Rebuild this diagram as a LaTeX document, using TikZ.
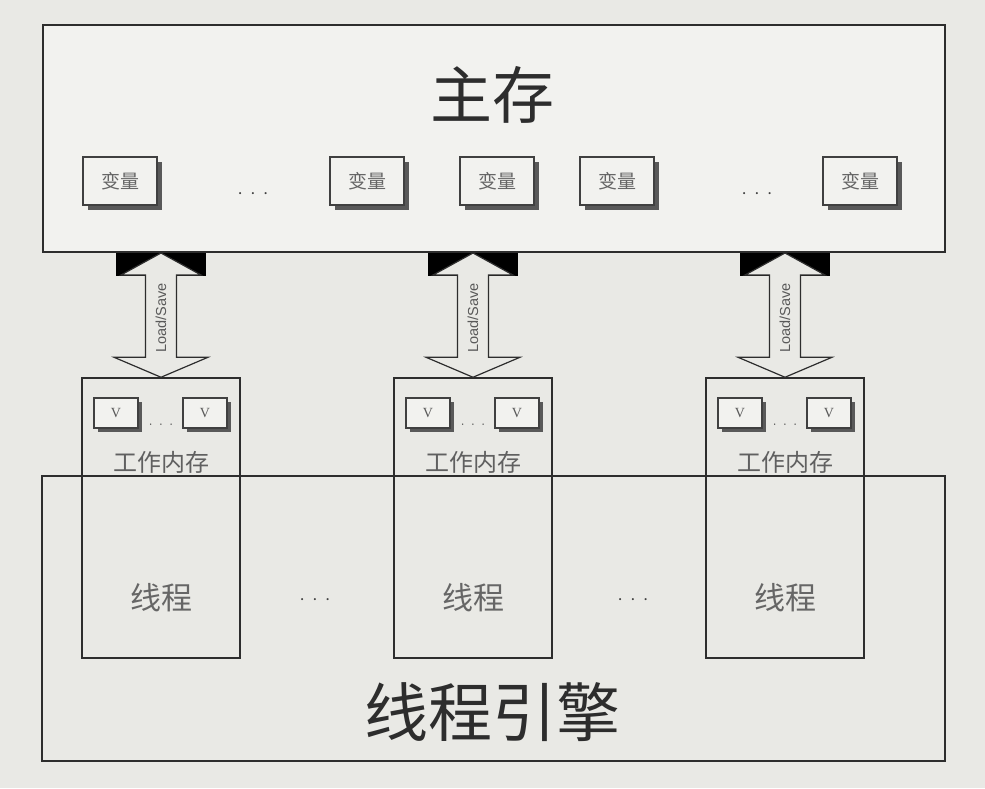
\documentclass[tikz,border=0pt]{standalone}
\usepackage{fontspec}
\newfontfamily\cjk{Noto Sans CJK SC}
\newfontfamily\serif{Liberation Serif}
\newfontfamily\sans{Liberation Sans}
\usetikzlibrary{calc, shadows}
\definecolor{paper}{RGB}{233,233,229}
\definecolor{sheet}{RGB}{242,242,239}
\definecolor{ink}{RGB}{45,45,45}

\begin{document}
\begin{tikzpicture}[x=1pt, y=-1pt, every text node part/.style={align=center}]

\tikzstyle{box}=[draw=ink, line width=1.5pt, inner sep=0pt]
\tikzstyle{varbox}=[draw=gray!50!black, line width=1.2pt, fill=sheet,
    minimum width=74pt, minimum height=48pt,
    general shadow={fill=black!65, shadow xshift=5pt, shadow yshift=-5pt},
    font=\cjk\fontsize{19}{19}\selectfont, text=gray!80!black]
\tikzstyle{vbox}=[draw=gray!50!black, line width=1.1pt, fill=sheet,
    minimum width=44pt, minimum height=30pt,
    general shadow={fill=black!65, shadow xshift=4pt, shadow yshift=-4pt},
    font=\serif\fontsize{14}{14}\selectfont, text=gray!70!black]
\tikzstyle{dots}=[font=\fontsize{26}{26}\selectfont, text=gray!50!black]
\tikzstyle{arr}=[draw=ink, line width=1.2pt, fill=paper, line join=miter]

\fill [paper] (0,0) rectangle (985,788);

% main memory
\node (main) [box, line width=2pt, fill=sheet, minimum width=902pt, minimum height=227pt] at (494,138.5) {};
\node (maintitle) [font=\cjk\fontsize{62}{62}\selectfont, text=ink] at (492,95) {主存};
\foreach \x [count=\i] in {120,367,497,617,860}
    \node (var\i) [varbox] at (\x,181) {变量};
\node (mdots1) [dots] at (253,198) {·\kern-6pt·\kern-6pt·};
\node (mdots2) [dots] at (757,198) {·\kern-6pt·\kern-6pt·};

% thread engine
\node (engine) [box, minimum width=903pt, minimum height=285pt] at (493.5,618.5) {};
\node (enginetitle) [font=\cjk\fontsize{64}{64}\selectfont, text=ink] at (492,712) {线程引擎};

% threads with working memory
\foreach \x [count=\i] in {161,473,785} {
    \node (t\i) [box, minimum width=158pt, minimum height=280pt] at (\x,518) {};
    \node (wm\i) [font=\cjk\fontsize{24}{24}\selectfont, text=gray!75!black] at (\x,462) {工作内存};
    \node (th\i) [font=\cjk\fontsize{31}{31}\selectfont, text=gray!80!black] at (\x,598) {线程};
    \node (va\i) [vbox] at ($(t\i.center)+(-45,-105)$) {V};
    \node (vb\i) [vbox] at ($(t\i.center)+(44,-105)$) {V};
    \node (vd\i) [dots, font=\fontsize{17}{17}\selectfont] at ($(t\i.center)+(0,-91)$) {·\kern-2pt·\kern-2pt·};
}
\node (tdots1) [dots] at ($(th1)!0.5!(th2)+(-2,6)$) {·\kern-6pt·\kern-6pt·};
\node (tdots2) [dots] at ($(th2)!0.5!(th3)+(4,6)$) {·\kern-6pt·\kern-6pt·};

% load/save arrows
\foreach \i in {1,2,3} {
    \coordinate (sock\i) at (main.south -| t\i.north);
    \fill [black] ($(sock\i)+(-45,0)$) rectangle ($(sock\i)+(45,23)$);
    \path [arr] (sock\i)
        -- ++(40,22) -- ++(-24.5,0)
        -- ($(t\i.north)+(15.5,-20)$) -- ++(31.5,0)
        -- (t\i.north)
        -- ++(-47,-20) -- ++(31.5,0)
        -- ($(sock\i)+(-15.5,22)$) -- ++(-24.5,0)
        -- cycle;
    \node (ls\i) [font=\sans\fontsize{14.5}{14.5}\selectfont, text=gray!70!black, rotate=90]
        at ($(sock\i)!0.5!(t\i.north)+(0,3)$) {Load/Save};
}
\end{tikzpicture}
\end{document}
